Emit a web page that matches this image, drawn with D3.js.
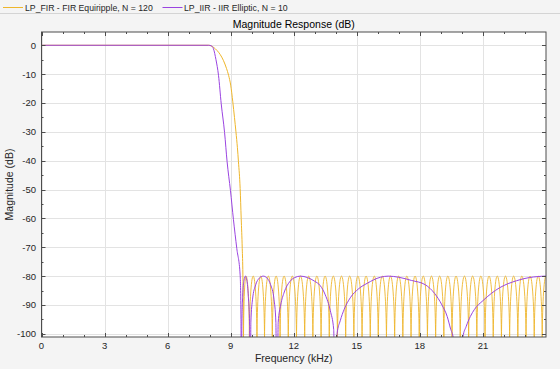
<!DOCTYPE html>
<html><head><meta charset="utf-8">
<script src="https://cdn.jsdelivr.net/npm/d3@7"></script>
<style>
body{margin:0;background:#f4f4f4;}
svg{display:block;font-family:"Liberation Sans",Arial,Helvetica,sans-serif;}
</style>
</head><body>
<svg id="c" width="560" height="369"></svg>
<script>
// ---------------- data ----------------
const seriesNames = ["LP_FIR - FIR Equiripple, N = 120", "LP_IIR - IIR Elliptic, N = 10"];
const titleText = "Magnitude Response (dB)";
const xLabel = "Frequency (kHz)";
const yLabel = "Magnitude (dB)";
const xTicks = [0, 3, 6, 9, 12, 15, 18, 21];
const xMinorTicks = [1, 2, 4, 5, 7, 8, 10, 11, 13, 14, 16, 17, 19, 20, 22, 23];
const yTicks = [0, -10, -20, -30, -40, -50, -60, -70, -80, -90, -100];
const yMinorTicks = [-5, -15, -25, -35, -45, -55, -65, -75, -85, -95];

// FIR: passband + transition (kHz, dB)
const firTransKHz = [0, 7.95, 8.05, 8.2, 8.35, 8.5, 8.65, 8.8, 8.9, 9.0, 9.1, 9.18, 9.25, 9.32, 9.37, 9.45, 9.5, 9.55, 9.58, 9.61];
const firTransDb  = [0, 0, -0.15, -0.8, -1.8, -3.2, -5.2, -8, -10.4, -13.8, -19.6, -25, -30, -35.5, -40.4, -49.6, -60, -70.4, -79.6, -104];
// FIR stopband equiripple: null before each peak, and peak positions (kHz)
const firNullKHz = [9.61, 9.89, 10.25, 10.61, 10.98, 11.35, 11.74, 12.13, 12.52, 12.91, 13.30, 13.69, 14.08, 14.47, 14.86, 15.25, 15.64, 16.02, 16.41, 16.80, 17.19, 17.58, 17.97, 18.36, 18.75, 19.14, 19.53, 19.92, 20.32, 20.71, 21.10, 21.49, 21.88, 22.27, 22.66, 23.05, 23.44, 23.82];
const firPeakKHz = [9.73, 10.07, 10.43, 10.79, 11.16, 11.54, 11.93, 12.32, 12.71, 13.10, 13.49, 13.88, 14.27, 14.66, 15.05, 15.44, 15.83, 16.21, 16.60, 16.99, 17.38, 17.77, 18.16, 18.55, 18.94, 19.33, 19.72, 20.12, 20.51, 20.90, 21.29, 21.68, 22.07, 22.46, 22.85, 23.24, 23.63, 24.0];
const firPeakDb = -80;
const firNullDb = -104;

// IIR elliptic (kHz, dB)
const iirKHz = [0, 7.95, 8.08, 8.18, 8.3, 8.42, 8.55, 8.71, 8.83, 8.99, 9.13, 9.29, 9.45, 9.49, 9.51,
  9.53, 9.57, 9.63, 9.7, 9.77, 9.84, 9.9, 9.93,
  9.96, 10.04, 10.19, 10.36, 10.55, 10.73, 10.9, 11.06, 11.15, 11.2,
  11.26, 11.38, 11.55, 11.8, 12.05, 12.32, 12.65, 13.0, 13.26, 13.5, 13.74, 13.9, 13.98,
  14.06, 14.21, 14.4, 14.69, 15.1, 15.49, 16.12, 16.5, 17.0, 17.6, 18.26, 18.7, 19.05, 19.3, 19.45, 19.6, 19.9,
  20.05, 20.2, 20.4, 20.6, 21.0, 21.4, 21.8, 22.2, 22.6, 23.0, 23.4, 23.8, 24];
const iirDb = [0, 0, -0.2, -1.2, -5, -10.4, -20.3, -30.3, -40.4, -50.4, -60.3, -70.4, -79.6, -95, -140,
  -97, -87, -81.5, -80, -81.5, -87, -97, -140,
  -96, -88, -83, -80.7, -80, -80.7, -83, -88, -96, -140,
  -96, -90, -85.5, -82, -80.5, -80, -80.5, -81.8, -83.3, -86.5, -92, -98.5, -140,
  -100, -95.5, -91.5, -87.5, -84.3, -82.5, -80.4, -80, -80.4, -81.5, -83, -86, -90, -94, -98, -102, -140,
  -101, -97.5, -94, -91.5, -88.5, -86, -84, -82.6, -81.6, -80.8, -80.3, -80.05, -80];

// ---------------- layout ----------------
const W = 560, H = 369;
const L = 41.5, R = 546, T = 32, B = 337;
const colFIR = "#eeb62c", colIIR = "#9a44e0";
const axisCol = "#262626";

const svg = d3.select("#c");
svg.append("rect").attr("width", W).attr("height", H).attr("fill", "#f4f4f4");

const x = d3.scaleLinear().domain([0, 24]).range([L, R]);
const y = d3.scaleLinear().domain([-101.1, 4.6]).range([B, T]);

// legend strip
svg.append("line").attr("x1", 0).attr("x2", W).attr("y1", 13.5).attr("y2", 13.5)
  .attr("stroke", "#d4d4d4").attr("stroke-width", 1);
const leg = [{c: colFIR, x0: 3, tx: 25}, {c: colIIR, x0: 162.5, tx: 184}];
leg.forEach((d, i) => {
  svg.append("line").attr("x1", d.x0).attr("x2", d.x0 + 20).attr("y1", 7.5).attr("y2", 7.5)
    .attr("stroke", d.c).attr("stroke-width", 1);
  svg.append("text").attr("x", d.tx).attr("y", 10.5).attr("font-size", 8.7)
    .attr("fill", axisCol).text(seriesNames[i]);
});

// plot background
svg.append("rect").attr("x", L).attr("y", T).attr("width", R - L).attr("height", B - T).attr("fill", "#fff");

// grid
const grid = svg.append("g").attr("stroke", "#e3e3e3").attr("stroke-width", 1);
xTicks.forEach(v => grid.append("line").attr("x1", Math.round(x(v)) + 0.5).attr("x2", Math.round(x(v)) + 0.5).attr("y1", T).attr("y2", B));
yTicks.forEach(v => grid.append("line").attr("y1", Math.round(y(v)) + 0.5).attr("y2", Math.round(y(v)) + 0.5).attr("x1", L).attr("x2", R));

// clip
svg.append("clipPath").attr("id", "clip").append("rect").attr("x", L).attr("y", T).attr("width", R - L).attr("height", B - T);
const plot = svg.append("g").attr("clip-path", "url(#clip)");

// FIR transition
const lineMono = d3.line().x(d => x(d[0])).y(d => y(d[1])).curve(d3.curveMonotoneX);
plot.append("path").attr("d", lineMono(firTransKHz.map((k, i) => [k, firTransDb[i]])))
  .attr("fill", "none").attr("stroke", colFIR).attr("stroke-width", 1);

// FIR stopband lobes (vertical at nulls, flat at peaks)
const p = d3.path();
const kk = 0.552;
let px = x(firNullKHz[0]), py = y(firNullDb);
p.moveTo(px, py);
firPeakKHz.forEach((pk, i) => {
  const x1 = x(pk), y1 = y(firPeakDb);
  p.bezierCurveTo(px, py + kk * (y1 - py), x1 - kk * (x1 - px), y1, x1, y1);
  px = x1; py = y1;
  if (i + 1 < firNullKHz.length) {
    const x2 = x(firNullKHz[i + 1]), y2 = y(firNullDb);
    p.bezierCurveTo(px + kk * (x2 - px), py, x2, y2 - kk * (y2 - py), x2, y2);
    px = x2; py = y2;
  }
});
plot.append("path").attr("d", p.toString()).attr("fill", "none").attr("stroke", colFIR).attr("stroke-width", 0.9);

// IIR
plot.append("path").attr("d", lineMono(iirKHz.map((k, i) => [k, iirDb[i]])))
  .attr("fill", "none").attr("stroke", colIIR).attr("stroke-width", 1);

// axes box
const box = svg.append("g").attr("stroke", "#4d4d4d").attr("stroke-width", 1).attr("fill", "none");
box.append("rect").attr("x", L).attr("y", T).attr("width", R - L).attr("height", B - T);

// ticks (inward, mirrored)
const tk = svg.append("g").attr("stroke", "#4d4d4d").attr("stroke-width", 1);
xTicks.forEach(v => {
  const xx = Math.round(x(v)) + 0.5;
  tk.append("line").attr("x1", xx).attr("x2", xx).attr("y1", B).attr("y2", B - 4);
  tk.append("line").attr("x1", xx).attr("x2", xx).attr("y1", T).attr("y2", T + 4);
});
xMinorTicks.forEach(v => {
  const xx = Math.round(x(v)) + 0.5;
  tk.append("line").attr("x1", xx).attr("x2", xx).attr("y1", B).attr("y2", B - 2);
  tk.append("line").attr("x1", xx).attr("x2", xx).attr("y1", T).attr("y2", T + 2);
});
yTicks.forEach(v => {
  const yy = Math.round(y(v)) + 0.5;
  tk.append("line").attr("y1", yy).attr("y2", yy).attr("x1", L).attr("x2", L + 4);
  tk.append("line").attr("y1", yy).attr("y2", yy).attr("x1", R).attr("x2", R - 4);
});
yMinorTicks.forEach(v => {
  const yy = Math.round(y(v)) + 0.5;
  tk.append("line").attr("y1", yy).attr("y2", yy).attr("x1", L).attr("x2", L + 2);
  tk.append("line").attr("y1", yy).attr("y2", yy).attr("x1", R).attr("x2", R - 2);
});

// tick labels
const lab = svg.append("g").attr("fill", axisCol).attr("font-size", 9.5);
xTicks.forEach(v => lab.append("text").attr("x", x(v)).attr("y", 349).attr("text-anchor", "middle").text(v));
yTicks.forEach(v => lab.append("text").attr("x", 36).attr("y", y(v) + 3.4).attr("text-anchor", "end").text(v));

// axis labels and title
svg.append("text").attr("x", (L + R) / 2).attr("y", 362).attr("text-anchor", "middle")
  .attr("font-size", 10.5).attr("fill", axisCol).text(xLabel);
svg.append("text").attr("transform", `translate(13,${(T + B) / 2}) rotate(-90)`).attr("text-anchor", "middle")
  .attr("font-size", 10.5).attr("fill", axisCol).text(yLabel);
svg.append("text").attr("x", (L + R) / 2).attr("y", 27.5).attr("text-anchor", "middle")
  .attr("font-size", 10.5).attr("fill", "#000").text(titleText);
</script>
</body></html>
